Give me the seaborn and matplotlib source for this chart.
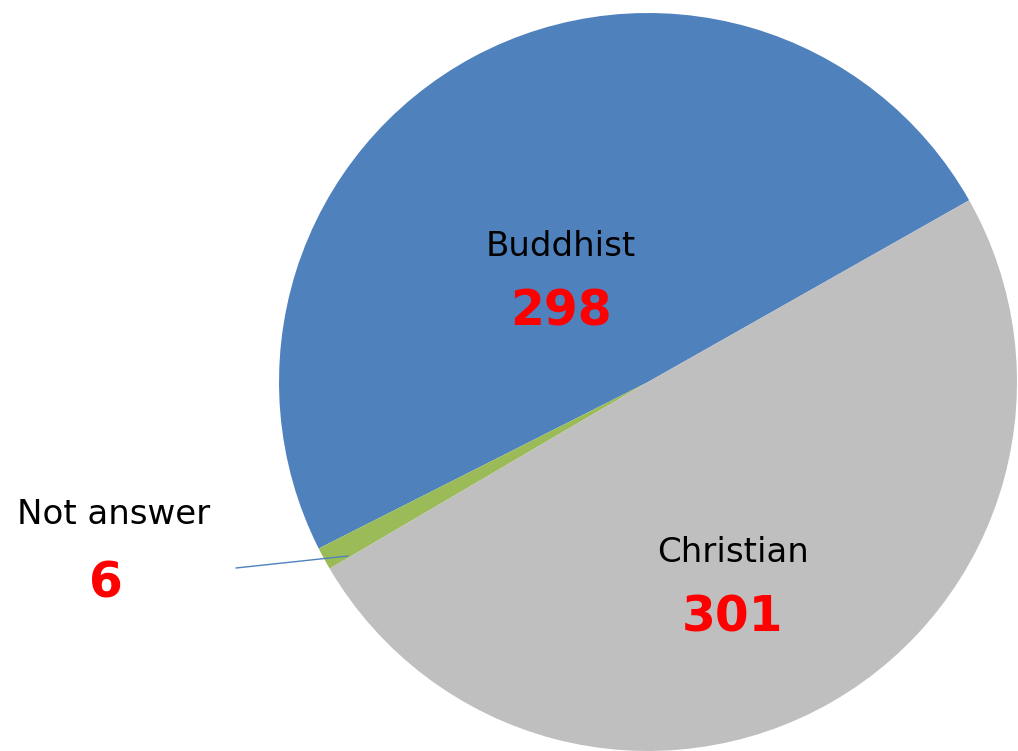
import matplotlib.pyplot as plt
import seaborn as sns

# data
categories = ["Buddhist", "Not answer", "Christian"]
counts = [298, 6, 301]
colors = ["#4F81BD", "#9BBB59", "#BFBFBF"]

sns.set_theme(style="white")
plt.rcParams['font.family'] = ['DejaVu Sans']

W, H = 1018, 751
fig = plt.figure(figsize=(W / 100, H / 100), dpi=100)
ax = fig.add_axes([0, 0, 1, 1])

# pie centre / radius in pixel units (y measured from the top)
cx, cy, r = 648, 382, 369
ax.pie(counts, colors=colors, startangle=29.5, counterclock=True,
       center=(cx, H - cy), radius=r, wedgeprops=dict(linewidth=0))

ax.set_xlim(0, W)
ax.set_ylim(0, H)
ax.set_aspect("equal")
ax.axis("off")

# label positions (pixel coords from top-left)
name_pos = [(561, 246), (114, 515), (733, 553)]
num_pos = [(561, 312), (106, 583), (733, 617)]

for name, n, (nx, ny), (vx, vy) in zip(categories, counts, name_pos, num_pos):
    ax.text(nx, H - ny, name, ha="center", va="center", fontsize=24.5, color="black")
    ax.text(vx, H - vy, str(n), ha="center", va="center", fontsize=35,
            fontweight="bold", color="#FF0000")

# leader line for the small slice
ax.plot([236, 348], [H - 568, H - 556], color="#4F81BD", linewidth=1)

plt.savefig("out.png", dpi=100)
plt.close()
